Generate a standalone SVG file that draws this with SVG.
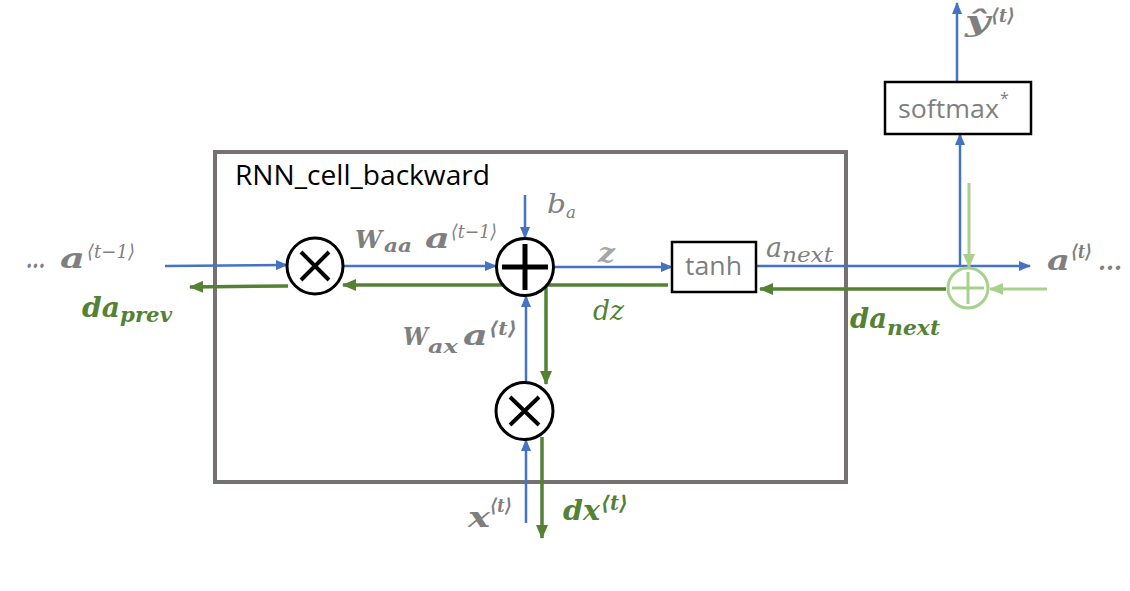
<svg xmlns="http://www.w3.org/2000/svg" width="1130" height="591" viewBox="0 0 1130 591">
<style>
.blue{stroke:#4472C4;stroke-width:2.5;fill:none}
.green{stroke:#548235;stroke-width:3.5;fill:none}
.lgreen{stroke:#A9D18E;stroke-width:3;fill:none}
.op{fill:#fff;stroke:#000;stroke-width:3}
.box{fill:#fff;stroke:#000;stroke-width:2.5}
text{font-family:"DejaVu Serif","Liberation Serif",serif}
.m{font-style:italic;font-weight:bold;fill:#7F7F7F}
.mg{font-style:italic;font-weight:bold;fill:#548235}
.mi{font-style:italic;fill:#7F7F7F}
.s{font-family:"Open Sans","Liberation Sans",sans-serif;fill:#7F7F7F}
</style>
<defs>
<marker id="ab" markerUnits="userSpaceOnUse" markerWidth="12" markerHeight="10" refX="11" refY="5" orient="auto"><path d="M0,0 L12,5 L0,10 Z" fill="#4472C4"/></marker>
<marker id="ag" markerUnits="userSpaceOnUse" markerWidth="14" markerHeight="12" refX="13" refY="6" orient="auto"><path d="M0,0 L14,6 L0,12 Z" fill="#548235"/></marker>
<marker id="al" markerUnits="userSpaceOnUse" markerWidth="14" markerHeight="12" refX="13" refY="6" orient="auto"><path d="M0,0 L14,6 L0,12 Z" fill="#A9D18E"/></marker>
</defs>
<g id="cell">
<rect x="215" y="152" width="631" height="330" fill="none" stroke="#767171" stroke-width="4"/>
<text x="235" y="185" font-size="27" fill="#000" textLength="255" lengthAdjust="spacingAndGlyphs" style="font-family:'Open Sans','Liberation Sans',sans-serif">RNN_cell_backward</text>
</g>
<g id="connectors">
<line class="blue" x1="165" y1="266" x2="287" y2="265" marker-end="url(#ab)"/>
<line class="blue" x1="343" y1="266" x2="496" y2="266" marker-end="url(#ab)"/>
<line class="blue" x1="525" y1="195" x2="525" y2="238" marker-end="url(#ab)"/>
<line class="blue" x1="555" y1="267" x2="672" y2="267" marker-end="url(#ab)"/>
<line class="blue" x1="526" y1="382" x2="526" y2="296" marker-end="url(#ab)"/>
<line class="blue" x1="526" y1="523" x2="526" y2="440" marker-end="url(#ab)"/>
<line class="blue" x1="756" y1="266" x2="1030" y2="266" marker-end="url(#ab)"/>
<line class="blue" x1="960" y1="266" x2="960" y2="134" marker-end="url(#ab)"/>
<line class="blue" x1="957" y1="82" x2="957" y2="3" marker-end="url(#ab)"/>
<line class="green" x1="668" y1="285" x2="343" y2="285" marker-end="url(#ag)"/>
<line class="green" x1="288" y1="286" x2="190" y2="287" marker-end="url(#ag)"/>
<line class="green" x1="546" y1="285" x2="546" y2="384" marker-end="url(#ag)"/>
<line class="green" x1="542" y1="437" x2="542" y2="538" marker-end="url(#ag)"/>
<line class="green" x1="946" y1="289" x2="760" y2="289" marker-end="url(#ag)"/>
<line class="lgreen" x1="969" y1="183" x2="969" y2="267" marker-end="url(#al)"/>
<line class="lgreen" x1="1047" y1="289" x2="990" y2="289" marker-end="url(#al)"/>
</g>
<g id="mul1">
<circle class="op" cx="315" cy="266" r="28"/>
<path d="M301,252 L329,280 M329,252 L301,280" stroke="#000" stroke-width="4"/>
</g>
<g id="add1">
<circle class="op" cx="525" cy="267" r="28.5"/>
<path d="M502,267 L548,267 M525,244 L525,290" stroke="#000" stroke-width="5"/>
</g>
<g id="mul2">
<circle class="op" cx="524.5" cy="411" r="28.5"/>
<path d="M510,397 L539,425 M539,397 L510,425" stroke="#000" stroke-width="4"/>
</g>
<g id="tanh">
<rect class="box" x="672" y="242" width="84" height="50"/>
<text class="s" x="685" y="275" font-size="26" textLength="57" lengthAdjust="spacingAndGlyphs">tanh</text>
</g>
<g id="softmax">
<rect class="box" x="885" y="82" width="146" height="52"/>
<text class="s" x="898" y="118" font-size="26" textLength="101" lengthAdjust="spacingAndGlyphs">softmax</text>
<text class="s" x="1000" y="104" font-size="16">*</text>
</g>
<g id="add2">
<circle cx="968" cy="288" r="20" fill="#fff" stroke="#A9D18E" stroke-width="3"/>
<path d="M952,288 L984,288 M968,272 L968,304" stroke="#A9D18E" stroke-width="3"/>
</g>
<g id="labels">
<text class="m" x="26" y="268" font-size="24" textLength="19" lengthAdjust="spacingAndGlyphs">...</text>
<text class="m" x="60" y="268" font-size="28" textLength="25" lengthAdjust="spacingAndGlyphs">a</text>
<text class="mi" x="87" y="258" font-size="19" textLength="48" lengthAdjust="spacingAndGlyphs">⟨t−1⟩</text>

<text class="mg" x="82" y="317" font-size="27" textLength="38" lengthAdjust="spacingAndGlyphs">da</text>
<text class="mg" x="120" y="322" font-size="20" textLength="52" lengthAdjust="spacingAndGlyphs">prev</text>

<text class="m" x="355" y="248" font-size="24" textLength="27" lengthAdjust="spacingAndGlyphs">W</text>
<text class="m" x="384" y="252" font-size="19" textLength="28" lengthAdjust="spacingAndGlyphs">aa</text>
<text class="m" x="425" y="248" font-size="28" textLength="25" lengthAdjust="spacingAndGlyphs">a</text>
<text class="mi" x="451" y="238" font-size="19" textLength="46" lengthAdjust="spacingAndGlyphs">⟨t−1⟩</text>

<text class="mi" x="547" y="213" font-size="26" textLength="19" lengthAdjust="spacingAndGlyphs">b</text>
<text class="mi" x="566" y="218" font-size="17" textLength="10" lengthAdjust="spacingAndGlyphs">a</text>

<text class="m" x="598" y="262" font-size="26" textLength="17" lengthAdjust="spacingAndGlyphs" style="fill:#A6A6A6">z</text>
<text x="593" y="320" font-size="27" font-style="italic" fill="#548235" textLength="31" lengthAdjust="spacingAndGlyphs">dz</text>

<text class="mi" x="766" y="257" font-size="27" textLength="16" lengthAdjust="spacingAndGlyphs">a</text>
<text class="mi" x="782" y="262" font-size="21" textLength="51" lengthAdjust="spacingAndGlyphs">next</text>

<text class="mg" x="850" y="328" font-size="27" textLength="37" lengthAdjust="spacingAndGlyphs">da</text>
<text class="mg" x="887" y="335" font-size="20" textLength="53" lengthAdjust="spacingAndGlyphs">next</text>

<text class="m" x="1047" y="270" font-size="28" textLength="23" lengthAdjust="spacingAndGlyphs">a</text>
<text class="m" x="1071" y="258" font-size="19" textLength="21" lengthAdjust="spacingAndGlyphs">⟨t⟩</text>
<text class="m" x="1098" y="270" font-size="24" textLength="24" lengthAdjust="spacingAndGlyphs">...</text>

<text class="m" x="403" y="345" font-size="24" textLength="25" lengthAdjust="spacingAndGlyphs">W</text>
<text class="m" x="428" y="353" font-size="19" textLength="30" lengthAdjust="spacingAndGlyphs">ax</text>
<text class="m" x="463" y="345" font-size="28" textLength="25" lengthAdjust="spacingAndGlyphs">a</text>
<text class="m" x="489" y="335" font-size="19" textLength="28" lengthAdjust="spacingAndGlyphs">⟨t⟩</text>

<text class="m" x="468" y="527" font-size="28" textLength="22" lengthAdjust="spacingAndGlyphs">x</text>
<text class="m" x="490" y="512" font-size="19" textLength="22" lengthAdjust="spacingAndGlyphs">⟨t⟩</text>

<text class="mg" x="563" y="520" font-size="28" textLength="37" lengthAdjust="spacingAndGlyphs">dx</text>
<text class="mg" x="601" y="510" font-size="20" textLength="27" lengthAdjust="spacingAndGlyphs">⟨t⟩</text>

<text class="m" x="965" y="31" font-size="28" textLength="25" lengthAdjust="spacingAndGlyphs">ŷ</text>
<text class="m" x="991" y="22" font-size="19" textLength="24" lengthAdjust="spacingAndGlyphs">⟨t⟩</text>
</g>
</svg>
